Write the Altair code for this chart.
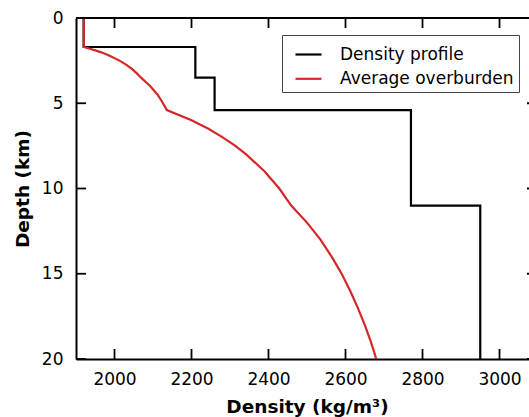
import altair as alt
import pandas as pd

# Layered density model (tops / bottoms in km, densities in kg/m^3)
layer_top = [0.0, 1.7, 3.5, 5.4, 11.0]
layer_bottom = [1.7, 3.5, 5.4, 11.0, 20.0]
layer_density = [1920, 2210, 2260, 2770, 2950]

# Average overburden density
avg_depth = [0.0, 1.7, 1.8, 1.9, 2.0, 2.2, 2.5, 2.75, 3.0, 3.25, 3.5, 4.0, 4.5,
             5.0, 5.4, 6.0, 6.5, 7.0, 7.5, 8.0, 9.0, 10.0, 11.0, 12.0, 13.0,
             14.0, 15.0, 16.0, 17.0, 18.0, 19.0, 20.0]
avg_density = [1920, 1920, 1936, 1950, 1964, 1986, 2013, 2031, 2046, 2058, 2069,
               2093, 2112, 2126, 2136, 2200, 2244, 2281, 2314, 2342, 2390, 2428,
               2459, 2500, 2535, 2564, 2590, 2612, 2632, 2650, 2666, 2680]

x_ticks = [2000, 2200, 2400, 2600, 2800, 3000]
y_ticks = [0, 5, 10, 15, 20]

series_names = ["Density profile", "Average overburden"]
series_colors = ["black", "#d62728"]

W, H = 453, 341
FONT = "DejaVu Sans"

rows = []
i = 0
for top, bot, rho in zip(layer_top, layer_bottom, layer_density):
    rows.append({"density": rho, "depth": top, "series": series_names[0], "idx": i}); i += 1
    rows.append({"density": rho, "depth": bot, "series": series_names[0], "idx": i}); i += 1
for d, rho in zip(avg_depth, avg_density):
    rows.append({"density": rho, "depth": d, "series": series_names[1], "idx": i}); i += 1
df = pd.DataFrame(rows)

xscale = alt.Scale(domain=[1900, 3076.6], nice=False, zero=False)
yscale = alt.Scale(domain=[0, 20], reverse=True, nice=False, zero=False)

lines = alt.Chart(df).mark_line(strokeWidth=2.2, clip=True).encode(
    x=alt.X("density:Q", scale=xscale,
            axis=alt.Axis(title="Density (kg/m³)", values=x_ticks, format="d",
                          ticks=False, grid=False,
                          domainColor="black", domainWidth=2, labelFontSize=17,
                          labelFont=FONT, labelColor="black", labelPadding=12,
                          titleFont=FONT, titleFontSize=18.5, titleFontWeight="bold",
                          titleColor="black", titleX=231, titleY=53,
                          titleBaseline="alphabetic")),
    y=alt.Y("depth:Q", scale=yscale,
            axis=alt.Axis(title="Depth (km)", values=y_ticks, format="d",
                          ticks=False, grid=False,
                          domainColor="black", domainWidth=2, labelFontSize=17,
                          labelFont=FONT, labelColor="black", labelPadding=13,
                          titleFont=FONT, titleFontSize=18.5, titleFontWeight="bold",
                          titleColor="black", titleX=-54, titleBaseline="middle")),
    color=alt.Color("series:N",
                    scale=alt.Scale(domain=series_names, range=series_colors),
                    sort=series_names,
                    legend=alt.Legend(orient="none", legendX=206, legendY=17, title=None,
                                      symbolType="stroke", symbolStrokeWidth=2.2,
                                      symbolSize=676, labelFontSize=17, labelFont=FONT,
                                      labelColor="black", labelOffset=17, labelLimit=0,
                                      fillColor="white", strokeColor="#444",
                                      padding=5, symbolOffset=7, rowPadding=1.3)),
    order=alt.Order("idx:Q"),
)

xt = pd.DataFrame({"v": x_ticks})
yt = pd.DataFrame({"v": y_ticks})

top_spine = alt.Chart(xt).mark_rule(color="black", strokeWidth=2).encode(
    x=alt.value(0), x2=alt.value(W), y=alt.value(0))
xt_bottom = alt.Chart(xt).mark_rule(color="black", strokeWidth=1.8).encode(
    x=alt.X("v:Q", scale=xscale), y=alt.value(H - 10), y2=alt.value(H))
xt_top = alt.Chart(xt).mark_rule(color="black", strokeWidth=1.8).encode(
    x=alt.X("v:Q", scale=xscale), y=alt.value(0), y2=alt.value(10))
yt_left = alt.Chart(yt).mark_rule(color="black", strokeWidth=1.8).encode(
    y=alt.Y("v:Q", scale=yscale), x=alt.value(0), x2=alt.value(10))
yt_right = alt.Chart(yt).mark_rule(color="black", strokeWidth=1.8).encode(
    y=alt.Y("v:Q", scale=yscale), x=alt.value(W - 2), x2=alt.value(W))

chart = alt.layer(lines, top_spine, xt_bottom, xt_top, yt_left, yt_right).properties(
    width=W, height=H,
    autosize=alt.AutoSizeParams(type="none"),
    padding={"left": 76, "top": 18, "right": 0, "bottom": 58},
    background="white",
).configure_view(stroke=None)

chart.save("out.html", embed_options={"renderer": "svg", "actions": False})
